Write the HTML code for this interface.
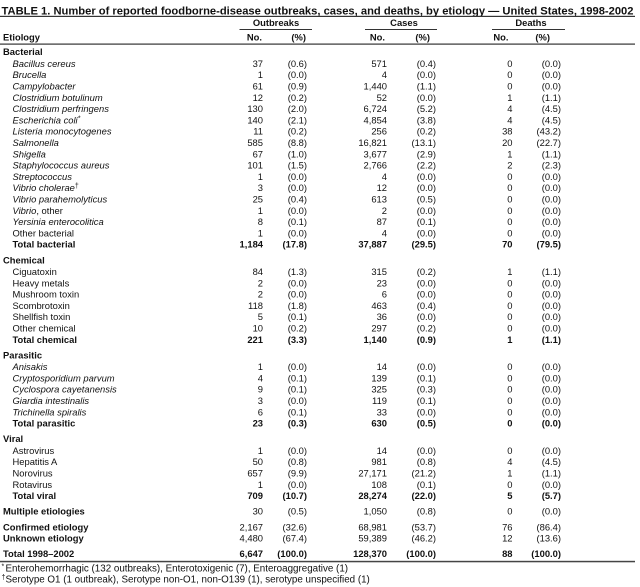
<!DOCTYPE html>
<html>
<head>
<meta charset="utf-8">
<style>
html,body{margin:0;padding:0;background:#fff;}
svg{display:block;}
text{font-family:"Liberation Sans",Arial,sans-serif;font-size:9.4px;fill:#111;}
.b{font-weight:bold;}
.i{font-style:italic;}
.e{text-anchor:end;}
.m{text-anchor:middle;}
.t{font-size:11px;font-weight:bold;}
.f{font-size:9.8px;}
</style>
</head>
<body>
<svg width="640" height="587" viewBox="0 0 640 587" xmlns="http://www.w3.org/2000/svg">
<rect width="640" height="587" fill="#fff"/>
<text class="t" x="1.5" y="14.3" textLength="632" lengthAdjust="spacingAndGlyphs">TABLE 1. Number of reported foodborne-disease outbreaks, cases, and deaths, by etiology — United States, 1998-2002</text>
<rect x="0" y="15.8" width="635" height="1.2" fill="#333"/>

<text class="b m" x="276" y="26">Outbreaks</text>
<text class="b m" x="404" y="26">Cases</text>
<text class="b m" x="531" y="26">Deaths</text>
<rect x="239.5" y="29" width="72.5" height="1" fill="#333"/>
<rect x="365" y="29" width="72" height="1" fill="#333"/>
<rect x="492" y="29" width="73" height="1" fill="#333"/>

<text class="b" x="3" y="40.5">Etiology</text>
<text class="b e" x="262" y="40.5">No.</text>
<text class="b e" x="306" y="40.5">(%)</text>
<text class="b e" x="385" y="40.5">No.</text>
<text class="b e" x="430" y="40.5">(%)</text>
<text class="b e" x="508.5" y="40.5">No.</text>
<text class="b e" x="550" y="40.5">(%)</text>
<rect x="0" y="43.5" width="635" height="1.2" fill="#333"/>

<!-- Bacterial -->
<text class="b" x="3" y="55.2">Bacterial</text>

<text class="i" x="12.5" y="66.9">Bacillus cereus</text>
<text class="e" x="263" y="66.9">37</text><text class="e" x="307" y="66.9">(0.6)</text><text class="e" x="387" y="66.9">571</text><text class="e" x="436" y="66.9">(0.4)</text><text class="e" x="512.5" y="66.9">0</text><text class="e" x="561" y="66.9">(0.0)</text>

<text class="i" x="12.5" y="78.2">Brucella</text>
<text class="e" x="263" y="78.2">1</text><text class="e" x="307" y="78.2">(0.0)</text><text class="e" x="387" y="78.2">4</text><text class="e" x="436" y="78.2">(0.0)</text><text class="e" x="512.5" y="78.2">0</text><text class="e" x="561" y="78.2">(0.0)</text>

<text class="i" x="12.5" y="89.5">Campylobacter</text>
<text class="e" x="263" y="89.5">61</text><text class="e" x="307" y="89.5">(0.9)</text><text class="e" x="387" y="89.5">1,440</text><text class="e" x="436" y="89.5">(1.1)</text><text class="e" x="512.5" y="89.5">0</text><text class="e" x="561" y="89.5">(0.0)</text>

<text class="i" x="12.5" y="100.8">Clostridium botulinum</text>
<text class="e" x="263" y="100.8">12</text><text class="e" x="307" y="100.8">(0.2)</text><text class="e" x="387" y="100.8">52</text><text class="e" x="436" y="100.8">(0.0)</text><text class="e" x="512.5" y="100.8">1</text><text class="e" x="561" y="100.8">(1.1)</text>

<text class="i" x="12.5" y="112.1">Clostridium perfringens</text>
<text class="e" x="263" y="112.1">130</text><text class="e" x="307" y="112.1">(2.0)</text><text class="e" x="387" y="112.1">6,724</text><text class="e" x="436" y="112.1">(5.2)</text><text class="e" x="512.5" y="112.1">4</text><text class="e" x="561" y="112.1">(4.5)</text>

<text class="i" x="12.5" y="123.4">Escherichia coli<tspan font-size="7" dy="-3">*</tspan></text>
<text class="e" x="263" y="123.4">140</text><text class="e" x="307" y="123.4">(2.1)</text><text class="e" x="387" y="123.4">4,854</text><text class="e" x="436" y="123.4">(3.8)</text><text class="e" x="512.5" y="123.4">4</text><text class="e" x="561" y="123.4">(4.5)</text>

<text class="i" x="12.5" y="134.7">Listeria monocytogenes</text>
<text class="e" x="263" y="134.7">11</text><text class="e" x="307" y="134.7">(0.2)</text><text class="e" x="387" y="134.7">256</text><text class="e" x="436" y="134.7">(0.2)</text><text class="e" x="512.5" y="134.7">38</text><text class="e" x="561" y="134.7">(43.2)</text>

<text class="i" x="12.5" y="146">Salmonella</text>
<text class="e" x="263" y="146">585</text><text class="e" x="307" y="146">(8.8)</text><text class="e" x="387" y="146">16,821</text><text class="e" x="436" y="146">(13.1)</text><text class="e" x="512.5" y="146">20</text><text class="e" x="561" y="146">(22.7)</text>

<text class="i" x="12.5" y="157.3">Shigella</text>
<text class="e" x="263" y="157.3">67</text><text class="e" x="307" y="157.3">(1.0)</text><text class="e" x="387" y="157.3">3,677</text><text class="e" x="436" y="157.3">(2.9)</text><text class="e" x="512.5" y="157.3">1</text><text class="e" x="561" y="157.3">(1.1)</text>

<text class="i" x="12.5" y="168.6">Staphylococcus aureus</text>
<text class="e" x="263" y="168.6">101</text><text class="e" x="307" y="168.6">(1.5)</text><text class="e" x="387" y="168.6">2,766</text><text class="e" x="436" y="168.6">(2.2)</text><text class="e" x="512.5" y="168.6">2</text><text class="e" x="561" y="168.6">(2.3)</text>

<text class="i" x="12.5" y="179.9">Streptococcus</text>
<text class="e" x="263" y="179.9">1</text><text class="e" x="307" y="179.9">(0.0)</text><text class="e" x="387" y="179.9">4</text><text class="e" x="436" y="179.9">(0.0)</text><text class="e" x="512.5" y="179.9">0</text><text class="e" x="561" y="179.9">(0.0)</text>

<text class="i" x="12.5" y="191.2">Vibrio cholerae<tspan font-size="7" dy="-3" font-style="normal">†</tspan></text>
<text class="e" x="263" y="191.2">3</text><text class="e" x="307" y="191.2">(0.0)</text><text class="e" x="387" y="191.2">12</text><text class="e" x="436" y="191.2">(0.0)</text><text class="e" x="512.5" y="191.2">0</text><text class="e" x="561" y="191.2">(0.0)</text>

<text class="i" x="12.5" y="202.5">Vibrio parahemolyticus</text>
<text class="e" x="263" y="202.5">25</text><text class="e" x="307" y="202.5">(0.4)</text><text class="e" x="387" y="202.5">613</text><text class="e" x="436" y="202.5">(0.5)</text><text class="e" x="512.5" y="202.5">0</text><text class="e" x="561" y="202.5">(0.0)</text>

<text x="12.5" y="213.8"><tspan class="i">Vibrio</tspan>, other</text>
<text class="e" x="263" y="213.8">1</text><text class="e" x="307" y="213.8">(0.0)</text><text class="e" x="387" y="213.8">2</text><text class="e" x="436" y="213.8">(0.0)</text><text class="e" x="512.5" y="213.8">0</text><text class="e" x="561" y="213.8">(0.0)</text>

<text class="i" x="12.5" y="225.1">Yersinia enterocolitica</text>
<text class="e" x="263" y="225.1">8</text><text class="e" x="307" y="225.1">(0.1)</text><text class="e" x="387" y="225.1">87</text><text class="e" x="436" y="225.1">(0.1)</text><text class="e" x="512.5" y="225.1">0</text><text class="e" x="561" y="225.1">(0.0)</text>

<text x="12.5" y="236.4">Other bacterial</text>
<text class="e" x="263" y="236.4">1</text><text class="e" x="307" y="236.4">(0.0)</text><text class="e" x="387" y="236.4">4</text><text class="e" x="436" y="236.4">(0.0)</text><text class="e" x="512.5" y="236.4">0</text><text class="e" x="561" y="236.4">(0.0)</text>

<text class="b" x="12.5" y="247.7">Total bacterial</text>
<text class="b e" x="263" y="247.7">1,184</text><text class="b e" x="307" y="247.7">(17.8)</text><text class="b e" x="387" y="247.7">37,887</text><text class="b e" x="436" y="247.7">(29.5)</text><text class="b e" x="512.5" y="247.7">70</text><text class="b e" x="561" y="247.7">(79.5)</text>

<!-- Chemical -->
<text class="b" x="3" y="263.3">Chemical</text>

<text x="12.5" y="275">Ciguatoxin</text>
<text class="e" x="263" y="275">84</text><text class="e" x="307" y="275">(1.3)</text><text class="e" x="387" y="275">315</text><text class="e" x="436" y="275">(0.2)</text><text class="e" x="512.5" y="275">1</text><text class="e" x="561" y="275">(1.1)</text>

<text x="12.5" y="286.3">Heavy metals</text>
<text class="e" x="263" y="286.3">2</text><text class="e" x="307" y="286.3">(0.0)</text><text class="e" x="387" y="286.3">23</text><text class="e" x="436" y="286.3">(0.0)</text><text class="e" x="512.5" y="286.3">0</text><text class="e" x="561" y="286.3">(0.0)</text>

<text x="12.5" y="297.6">Mushroom toxin</text>
<text class="e" x="263" y="297.6">2</text><text class="e" x="307" y="297.6">(0.0)</text><text class="e" x="387" y="297.6">6</text><text class="e" x="436" y="297.6">(0.0)</text><text class="e" x="512.5" y="297.6">0</text><text class="e" x="561" y="297.6">(0.0)</text>

<text x="12.5" y="308.9">Scombrotoxin</text>
<text class="e" x="263" y="308.9">118</text><text class="e" x="307" y="308.9">(1.8)</text><text class="e" x="387" y="308.9">463</text><text class="e" x="436" y="308.9">(0.4)</text><text class="e" x="512.5" y="308.9">0</text><text class="e" x="561" y="308.9">(0.0)</text>

<text x="12.5" y="320.2">Shellfish toxin</text>
<text class="e" x="263" y="320.2">5</text><text class="e" x="307" y="320.2">(0.1)</text><text class="e" x="387" y="320.2">36</text><text class="e" x="436" y="320.2">(0.0)</text><text class="e" x="512.5" y="320.2">0</text><text class="e" x="561" y="320.2">(0.0)</text>

<text x="12.5" y="331.5">Other chemical</text>
<text class="e" x="263" y="331.5">10</text><text class="e" x="307" y="331.5">(0.2)</text><text class="e" x="387" y="331.5">297</text><text class="e" x="436" y="331.5">(0.2)</text><text class="e" x="512.5" y="331.5">0</text><text class="e" x="561" y="331.5">(0.0)</text>

<text class="b" x="12.5" y="342.8">Total chemical</text>
<text class="b e" x="263" y="342.8">221</text><text class="b e" x="307" y="342.8">(3.3)</text><text class="b e" x="387" y="342.8">1,140</text><text class="b e" x="436" y="342.8">(0.9)</text><text class="b e" x="512.5" y="342.8">1</text><text class="b e" x="561" y="342.8">(1.1)</text>

<!-- Parasitic -->
<text class="b" x="3" y="358.4">Parasitic</text>

<text class="i" x="12.5" y="370.1">Anisakis</text>
<text class="e" x="263" y="370.1">1</text><text class="e" x="307" y="370.1">(0.0)</text><text class="e" x="387" y="370.1">14</text><text class="e" x="436" y="370.1">(0.0)</text><text class="e" x="512.5" y="370.1">0</text><text class="e" x="561" y="370.1">(0.0)</text>

<text class="i" x="12.5" y="381.4">Cryptosporidium parvum</text>
<text class="e" x="263" y="381.4">4</text><text class="e" x="307" y="381.4">(0.1)</text><text class="e" x="387" y="381.4">139</text><text class="e" x="436" y="381.4">(0.1)</text><text class="e" x="512.5" y="381.4">0</text><text class="e" x="561" y="381.4">(0.0)</text>

<text class="i" x="12.5" y="392.7">Cyclospora cayetanensis</text>
<text class="e" x="263" y="392.7">9</text><text class="e" x="307" y="392.7">(0.1)</text><text class="e" x="387" y="392.7">325</text><text class="e" x="436" y="392.7">(0.3)</text><text class="e" x="512.5" y="392.7">0</text><text class="e" x="561" y="392.7">(0.0)</text>

<text class="i" x="12.5" y="404">Giardia intestinalis</text>
<text class="e" x="263" y="404">3</text><text class="e" x="307" y="404">(0.0)</text><text class="e" x="387" y="404">119</text><text class="e" x="436" y="404">(0.1)</text><text class="e" x="512.5" y="404">0</text><text class="e" x="561" y="404">(0.0)</text>

<text class="i" x="12.5" y="415.3">Trichinella spiralis</text>
<text class="e" x="263" y="415.3">6</text><text class="e" x="307" y="415.3">(0.1)</text><text class="e" x="387" y="415.3">33</text><text class="e" x="436" y="415.3">(0.0)</text><text class="e" x="512.5" y="415.3">0</text><text class="e" x="561" y="415.3">(0.0)</text>

<text class="b" x="12.5" y="426.6">Total parasitic</text>
<text class="b e" x="263" y="426.6">23</text><text class="b e" x="307" y="426.6">(0.3)</text><text class="b e" x="387" y="426.6">630</text><text class="b e" x="436" y="426.6">(0.5)</text><text class="b e" x="512.5" y="426.6">0</text><text class="b e" x="561" y="426.6">(0.0)</text>

<!-- Viral -->
<text class="b" x="3" y="442.2">Viral</text>

<text x="12.5" y="453.9">Astrovirus</text>
<text class="e" x="263" y="453.9">1</text><text class="e" x="307" y="453.9">(0.0)</text><text class="e" x="387" y="453.9">14</text><text class="e" x="436" y="453.9">(0.0)</text><text class="e" x="512.5" y="453.9">0</text><text class="e" x="561" y="453.9">(0.0)</text>

<text x="12.5" y="465.2">Hepatitis A</text>
<text class="e" x="263" y="465.2">50</text><text class="e" x="307" y="465.2">(0.8)</text><text class="e" x="387" y="465.2">981</text><text class="e" x="436" y="465.2">(0.8)</text><text class="e" x="512.5" y="465.2">4</text><text class="e" x="561" y="465.2">(4.5)</text>

<text x="12.5" y="476.5">Norovirus</text>
<text class="e" x="263" y="476.5">657</text><text class="e" x="307" y="476.5">(9.9)</text><text class="e" x="387" y="476.5">27,171</text><text class="e" x="436" y="476.5">(21.2)</text><text class="e" x="512.5" y="476.5">1</text><text class="e" x="561" y="476.5">(1.1)</text>

<text x="12.5" y="487.8">Rotavirus</text>
<text class="e" x="263" y="487.8">1</text><text class="e" x="307" y="487.8">(0.0)</text><text class="e" x="387" y="487.8">108</text><text class="e" x="436" y="487.8">(0.1)</text><text class="e" x="512.5" y="487.8">0</text><text class="e" x="561" y="487.8">(0.0)</text>

<text class="b" x="12.5" y="499.1">Total viral</text>
<text class="b e" x="263" y="499.1">709</text><text class="b e" x="307" y="499.1">(10.7)</text><text class="b e" x="387" y="499.1">28,274</text><text class="b e" x="436" y="499.1">(22.0)</text><text class="b e" x="512.5" y="499.1">5</text><text class="b e" x="561" y="499.1">(5.7)</text>

<!-- Multiple -->
<text class="b" x="3" y="514.7">Multiple etiologies</text>
<text class="e" x="263" y="514.7">30</text><text class="e" x="307" y="514.7">(0.5)</text><text class="e" x="387" y="514.7">1,050</text><text class="e" x="436" y="514.7">(0.8)</text><text class="e" x="512.5" y="514.7">0</text><text class="e" x="561" y="514.7">(0.0)</text>

<text class="b" x="3" y="530.3">Confirmed etiology</text>
<text class="e" x="263" y="530.3">2,167</text><text class="e" x="307" y="530.3">(32.6)</text><text class="e" x="387" y="530.3">68,981</text><text class="e" x="436" y="530.3">(53.7)</text><text class="e" x="512.5" y="530.3">76</text><text class="e" x="561" y="530.3">(86.4)</text>

<text class="b" x="3" y="541.6">Unknown etiology</text>
<text class="e" x="263" y="541.6">4,480</text><text class="e" x="307" y="541.6">(67.4)</text><text class="e" x="387" y="541.6">59,389</text><text class="e" x="436" y="541.6">(46.2)</text><text class="e" x="512.5" y="541.6">12</text><text class="e" x="561" y="541.6">(13.6)</text>

<text class="b" x="3" y="557.2">Total 1998–2002</text>
<text class="b e" x="263" y="557.2">6,647</text><text class="b e" x="307" y="557.2">(100.0)</text><text class="b e" x="387" y="557.2">128,370</text><text class="b e" x="436" y="557.2">(100.0)</text><text class="b e" x="512.5" y="557.2">88</text><text class="b e" x="561" y="557.2">(100.0)</text>

<rect x="0" y="560.8" width="635" height="1.5" fill="#444"/>

<text class="f" x="1.5" y="571.6"><tspan font-size="7" dy="-3">*</tspan><tspan x="5.5" dy="3">Enterohemorrhagic (132 outbreaks), Enterotoxigenic (7), Enteroaggregative (1)</tspan></text>
<text class="f" x="1.5" y="582.6"><tspan font-size="7" dy="-3">†</tspan><tspan x="5.5" dy="3">Serotype O1 (1 outbreak), Serotype non-O1, non-O139 (1), serotype unspecified (1)</tspan></text>
</svg>
</body>
</html>
